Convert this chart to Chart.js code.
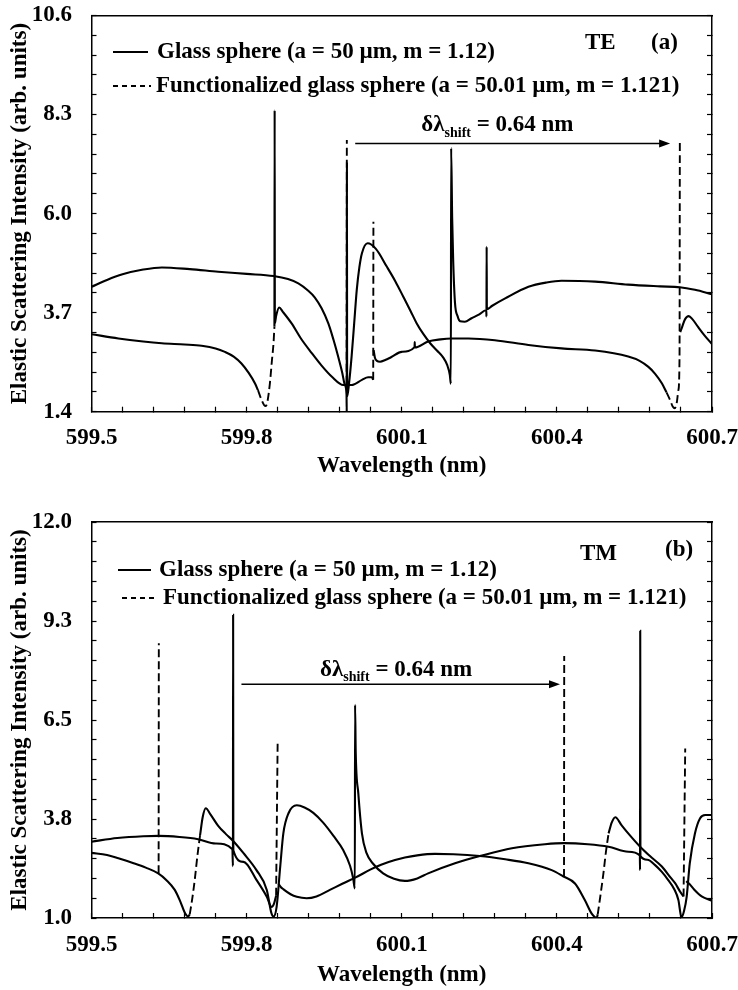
<!DOCTYPE html>
<html>
<head>
<meta charset="utf-8">
<script src="https://cdn.jsdelivr.net/npm/chart.js@4.4.1/dist/chart.umd.min.js"></script>
<style>
  body { margin: 0; background: #fff; }
  .panel { position: absolute; left: 0; }
</style>
</head>
<body>
<div class="panel" style="top:0"><canvas id="te" width="738" height="480"></canvas></div>
<div class="panel" style="top:480px"><canvas id="tm" width="738" height="510"></canvas></div>
<script>
// wavelength ticks shared by both panels (nm)
var wlTicks = [599.5, 599.8, 600.1, 600.4, 600.7];

// ---- TE, panel (a) ----
var teYTicks = [1.4, 3.7, 6.0, 8.3, 10.6];
var teGlass = [
  [599.500, 4.30], [599.530, 4.46], [599.560, 4.59], [599.600, 4.70], [599.636, 4.75],
  [599.690, 4.71], [599.745, 4.65], [599.800, 4.60], [599.852, 4.55], [599.880, 4.48],
  [599.900, 4.38], [599.918, 4.22], [599.932, 4.05], [599.945, 3.80], [599.958, 3.45],
  [599.968, 3.07], [599.977, 2.68], [599.985, 2.30], [599.990, 2.02], [599.9932, 1.80],
  [599.9936, 1.40], [599.9940, 7.20], [599.9944, 1.75], [599.998, 2.05], [600.003, 2.68],
  [600.008, 3.45], [600.013, 4.23], [600.018, 4.75], [600.023, 5.08], [600.034, 5.31],
  [600.050, 5.18], [600.071, 4.77], [600.088, 4.42], [600.103, 4.07], [600.117, 3.74],
  [600.129, 3.45], [600.142, 3.20], [600.155, 2.99], [600.168, 2.82], [600.180, 2.66],
  [600.188, 2.48], [600.193, 2.25], [600.1950, 2.05], [600.1955, 7.52],
  [600.1975, 5.90], [600.1995, 4.90], [600.203, 3.92], [600.208, 3.62], [600.213, 3.50],
  [600.222, 3.49], [600.235, 3.57], [600.250, 3.66], [600.2635, 3.76], [600.2638, 3.61],
  [600.2642, 5.23], [600.2646, 3.78], [600.275, 3.86], [600.300, 4.03], [600.345, 4.30],
  [600.380, 4.40], [600.409, 4.44], [600.474, 4.42], [600.538, 4.35], [600.600, 4.31],
  [600.638, 4.29], [600.667, 4.23], [600.700, 4.13]
];
var teLower = [
  [599.500, 3.20], [599.552, 3.10], [599.600, 3.03], [599.636, 2.99], [599.680, 2.96],
  [599.713, 2.93], [599.740, 2.87], [599.758, 2.79], [599.775, 2.68], [599.790, 2.52],
  [599.804, 2.30], [599.816, 2.06], [599.822, 1.90],
  null,
  [599.8538, 3.38], [599.8542, 8.40], [599.8546, 3.45], [599.857, 3.62], [599.863, 3.82],
  [599.870, 3.72], [599.887, 3.45], [599.905, 3.10], [599.926, 2.76], [599.945, 2.47],
  [599.965, 2.21], [599.987, 2.02], [600.003, 2.02], [600.023, 2.14], [600.035, 2.20],
  [600.042, 2.20], [600.0448, 2.14],
  null,
  [600.0456, 2.83], [600.048, 2.66], [600.052, 2.58], [600.058, 2.56], [600.068, 2.60],
  [600.080, 2.67], [600.100, 2.79], [600.1248, 2.90], [600.1251, 3.02], [600.1254, 2.89],
  [600.151, 3.03], [600.175, 3.08], [600.196, 3.10], [600.229, 3.10], [600.280, 3.06],
  [600.345, 2.95], [600.409, 2.87], [600.474, 2.82], [600.538, 2.68], [600.560, 2.58],
  [600.577, 2.44], [600.590, 2.28], [600.603, 2.06], [600.612, 1.85],
  null,
  [600.6386, 3.25], [600.642, 3.36], [600.648, 3.55], [600.655, 3.62], [600.662, 3.55],
  [600.673, 3.37], [600.685, 3.18], [600.700, 2.97]
];
var teDashed = [
  [599.822, 1.90], [599.829, 1.67], [599.834, 1.55], [599.837, 1.53], [599.840, 1.62],
  [599.845, 2.06], [599.849, 2.60], [599.852, 2.99], [599.8538, 3.38],
  null,
  [599.9934, 2.05], [599.9938, 7.71],
  null,
  [600.0448, 2.14], [600.0452, 5.81],
  null,
  [600.612, 1.85], [600.619, 1.67], [600.624, 1.52], [600.628, 1.48], [600.632, 1.62],
  [600.635, 1.90], [600.6372, 2.68], [600.6378, 7.67]
];
var teArrow = [600.01, 600.619, 7.63];
var teShiftAt = [600.285, 8.07];

// ---- TM, panel (b) ----
var tmYTicks = [1, 3.75, 6.5, 9.25, 12];
var tmSharp = [
  [599.500, 2.81], [599.530, 2.75], [599.552, 2.66], [599.580, 2.53], [599.605, 2.40],
  [599.629, 2.24], [599.645, 2.05], [599.661, 1.78], [599.672, 1.45], [599.681, 1.13],
  [599.687, 1.04], [599.690, 1.10],
  null,
  [599.710, 3.30], [599.715, 3.80], [599.721, 4.05], [599.730, 3.88], [599.745, 3.56],
  [599.760, 3.33], [599.774, 3.14], [599.794, 2.80], [599.819, 2.33], [599.839, 1.78],
  [599.848, 1.13], [599.852, 1.04], [599.858, 1.31], [599.865, 2.43], [599.871, 3.35],
  [599.881, 3.91], [599.897, 4.13], [599.912, 4.07], [599.929, 3.92], [599.948, 3.65],
  [599.968, 3.28], [599.987, 2.88], [600.000, 2.45], [600.006, 2.10], [600.0093, 1.82],
  [600.0097, 6.92], [600.0110, 5.60], [600.016, 4.46], [600.023, 3.35], [600.032, 2.80],
  [600.045, 2.50], [600.064, 2.24], [600.085, 2.09], [600.106, 2.03], [600.130, 2.10],
  [600.151, 2.24], [600.203, 2.52], [600.251, 2.72], [600.313, 2.94], [600.377, 3.05],
  [600.414, 3.08], [600.460, 3.05], [600.500, 2.98], [600.538, 2.84], [600.5605, 2.74],
  [600.5608, 2.33], [600.5612, 8.98], [600.5616, 2.72], [600.575, 2.62], [600.590, 2.47],
  [600.603, 2.28], [600.615, 2.06], [600.627, 1.80], [600.635, 1.50], [600.641, 1.02],
  [600.646, 1.20], [600.651, 1.59], [600.657, 2.52], [600.667, 3.35], [600.677, 3.77],
  [600.687, 3.86], [600.700, 3.86]
];
var tmBroad = [
  [599.500, 3.12], [599.550, 3.22], [599.600, 3.27], [599.630, 3.28], [599.670, 3.25],
  [599.706, 3.19], [599.740, 3.07], [599.7725, 2.91], [599.7735, 2.44], [599.7739, 9.42],
  [599.7743, 2.88], [599.794, 2.56], [599.819, 2.06], [599.839, 1.59], [599.848, 1.31],
  [599.853, 1.40], [599.857, 1.62],
  null,
  [599.8615, 1.95], [599.866, 1.86], [599.871, 1.80], [599.885, 1.66], [599.897, 1.59],
  [599.916, 1.55], [599.935, 1.60], [599.961, 1.78], [599.985, 1.95], [600.010, 2.12],
  [600.040, 2.35], [600.060, 2.48], [600.087, 2.61], [600.106, 2.68], [600.130, 2.74],
  [600.164, 2.78], [600.200, 2.77], [600.251, 2.72], [600.300, 2.63], [600.345, 2.52],
  [600.390, 2.33], [600.412, 2.16], [600.435, 1.96], [600.454, 1.50], [600.467, 1.13],
  [600.474, 1.02], [600.477, 1.00], [600.479, 1.10],
  null,
  [600.500, 3.35], [600.506, 3.65], [600.513, 3.80], [600.525, 3.58], [600.538, 3.35],
  [600.561, 2.98], [600.580, 2.72], [600.603, 2.43], [600.620, 2.12], [600.629, 1.96],
  [600.638, 1.74], [600.645, 1.60],
  null,
  [600.650, 2.02], [600.656, 1.95], [600.665, 1.80], [600.680, 1.60], [600.700, 1.48]
];
var tmDashed = [
  [599.6298, 2.24], [599.6302, 8.63],
  null,
  [599.690, 1.10], [599.695, 1.55], [599.700, 2.10], [599.705, 2.75], [599.710, 3.30],
  null,
  [599.857, 1.62], [599.8600, 5.90],
  null,
  [600.4138, 2.14], [600.4142, 8.28],
  null,
  [600.479, 1.10], [600.483, 1.50], [600.490, 2.24], [600.495, 2.85], [600.500, 3.35],
  null,
  [600.645, 1.60], [600.6482, 5.71]
];
var tmArrow = [599.79, 600.406, 7.49];
var tmShiftAt = [600.089, 7.92];

var FONT = '"Liberation Serif", "Times New Roman", serif';
var GLASS = 'Glass sphere (a = 50 \u00b5m, m = 1.12)';
var FUNC = 'Functionalized glass sphere (a = 50.01 \u00b5m, m = 1.121)';

// legend, polarisation tag and shift arrow of each panel
var decorCfg = {
  te: {
    rows: [
      { text: GLASS, dashed: false, x0: 113, x1: 148, tx: 157, y: 52 },
      { text: FUNC, dashed: true, x0: 113, x1: 151, tx: 156, y: 86 }
    ],
    tags: [{ text: 'TE', x: 585, y: 43 }, { text: '(a)', x: 651, y: 43 }],
    arrow: teArrow, label: teShiftAt
  },
  tm: {
    rows: [
      { text: GLASS, dashed: false, x0: 118, x1: 151, tx: 159, y: 90 },
      { text: FUNC, dashed: true, x0: 122, x1: 156, tx: 163, y: 118 }
    ],
    tags: [{ text: 'TM', x: 580, y: 74 }, { text: '(b)', x: 665, y: 70 }],
    arrow: tmArrow, label: tmShiftAt
  }
};

var decor = {
  id: 'decor',
  afterDatasetsDraw: function (chart) {
    var o = decorCfg[chart.canvas.id];
    var ctx = chart.ctx, x = chart.scales.x, y = chart.scales.y;
    var big = 'bold 23px ' + FONT, small = 'bold 14px ' + FONT;
    ctx.save();
    ctx.fillStyle = '#000';
    ctx.strokeStyle = '#000';
    ctx.textBaseline = 'middle';
    ctx.textAlign = 'left';
    ctx.font = big;

    o.rows.forEach(function (r) {
      ctx.lineWidth = 2;
      ctx.setLineDash(r.dashed ? [5, 4] : []);
      ctx.beginPath();
      ctx.moveTo(r.x0, r.y);
      ctx.lineTo(r.x1, r.y);
      ctx.stroke();
      ctx.setLineDash([]);
      ctx.fillText(r.text, r.tx, r.y);
    });
    o.tags.forEach(function (t) { ctx.fillText(t.text, t.x, t.y); });

    // arrow between the shifted resonances
    var ax0 = x.getPixelForValue(o.arrow[0]);
    var ax1 = x.getPixelForValue(o.arrow[1]);
    var ay = y.getPixelForValue(o.arrow[2]);
    ctx.lineWidth = 1.5;
    ctx.beginPath();
    ctx.moveTo(ax0, ay);
    ctx.lineTo(ax1 - 8, ay);
    ctx.stroke();
    ctx.beginPath();
    ctx.moveTo(ax1, ay);
    ctx.lineTo(ax1 - 11, ay - 4);
    ctx.lineTo(ax1 - 11, ay + 4);
    ctx.closePath();
    ctx.fill();

    // δλ_shift label with subscript
    var parts = [['\u03b4\u03bb', big, 0], ['shift', small, 5.5], [' = 0.64 nm', big, 0]];
    var w = 0;
    parts.forEach(function (p) { ctx.font = p[1]; w += ctx.measureText(p[0]).width; });
    var cx = x.getPixelForValue(o.label[0]) - w / 2;
    var base = y.getPixelForValue(o.label[1]) + 7;
    ctx.textBaseline = 'alphabetic';
    parts.forEach(function (p) {
      ctx.font = p[1];
      ctx.fillText(p[0], cx, base + p[2]);
      cx += ctx.measureText(p[0]).width;
    });
    ctx.restore();
  }
};

function pts(arr) {
  return arr.map(function (p, i) {
    return p ? { x: p[0], y: p[1] } : { x: arr[i - 1][0], y: null };
  });
}

function curve(arr, dashed) {
  return {
    data: pts(arr),
    borderColor: '#000',
    borderWidth: dashed ? 1.9 : 2.1,
    borderDash: dashed ? [8, 4] : [],
    showLine: true,
    pointRadius: 0,
    cubicInterpolationMode: 'monotone',
    spanGaps: false,
    xAxisID: 'x',
    yAxisID: 'y'
  };
}

function tickLabel(list) {
  return function (v) {
    for (var i = 0; i < list.length; i++) {
      if (Math.abs(list[i] - v) < 1e-6) return list[i].toFixed(1);
    }
    return '';
  };
}

function panel(id, p) {
  var font = { family: FONT, size: 23, weight: 'bold' };
  var frame = { color: '#000', width: 1.5 };
  var inner = { drawOnChartArea: false, tickLength: -5, tickColor: '#000', tickWidth: 1.2 };
  var ymin = p.yTicks[0], ymax = p.yTicks[p.yTicks.length - 1];
  return new Chart(document.getElementById(id), {
    type: 'scatter',
    data: { datasets: [curve(p.a, false), curve(p.b, false), curve(p.dashed, true)] },
    options: {
      responsive: false,
      animation: false,
      events: [],
      layout: { padding: { left: 0, right: 26, top: p.top, bottom: 0 } },
      plugins: { legend: { display: false }, tooltip: { enabled: false } },
      scales: {
        x: {
          type: 'linear', position: 'bottom', min: 599.5, max: 600.7,
          afterFit: function (s) { s.height = p.xHeight; s.paddingLeft = 0; s.paddingRight = 0; },
          border: frame, grid: inner,
          ticks: { stepSize: 0.06, autoSkip: false, maxRotation: 0, padding: 18,
                   color: '#000', font: font, callback: tickLabel(wlTicks) },
          title: { display: true, text: 'Wavelength (nm)', color: '#000', font: font,
                   padding: { top: 0, bottom: p.titlePad } }
        },
        x2: {
          type: 'linear', position: 'top', min: 599.5, max: 600.7,
          afterFit: function (s) { s.height = 0; s.paddingLeft = 0; s.paddingRight = 0; },
          border: frame, grid: { display: false }, ticks: { display: false }
        },
        y: {
          type: 'linear', position: 'left', min: ymin, max: ymax,
          afterFit: function (s) { s.width = 91.5; s.paddingTop = 0; s.paddingBottom = 0; },
          border: frame, grid: inner,
          ticks: { stepSize: p.yStep, autoSkip: false, padding: 24.5, color: '#000',
                   font: font, callback: tickLabel(p.yTicks) },
          title: { display: true, text: 'Elastic Scattering Intensity (arb. units)',
                   color: '#000', font: font, padding: { top: 6, bottom: 0 } }
        },
        y2: {
          type: 'linear', position: 'right', min: ymin, max: ymax,
          afterFit: function (s) { s.width = 0; s.paddingTop = 0; s.paddingBottom = 0; },
          border: frame, grid: inner,
          ticks: { display: false, stepSize: p.yStep }
        }
      }
    },
    plugins: [decor]
  });
}

panel('te', { a: teGlass, b: teLower, dashed: teDashed, yTicks: teYTicks, yStep: 0.46,
              top: 15.5, xHeight: 68.3, titlePad: 0.5 });
panel('tm', { a: tmSharp, b: tmBroad, dashed: tmDashed, yTicks: tmYTicks, yStep: 0.55,
              top: 42, xHeight: 72, titlePad: 1.3 });
</script>
</body>
</html>
